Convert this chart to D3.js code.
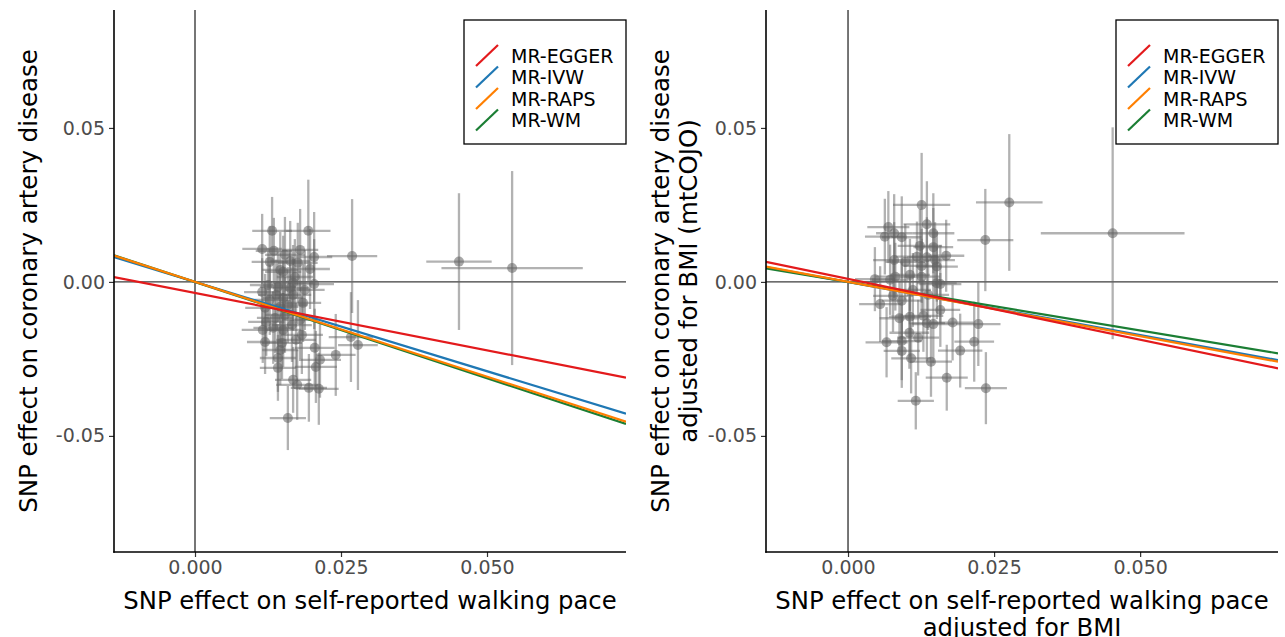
<!DOCTYPE html>
<html>
<head>
<meta charset="utf-8">
<script src="https://cdn.jsdelivr.net/npm/d3@7"></script>
<style>
  html, body { margin: 0; padding: 0; background: #fff; }
  svg { display: block; font-family: "DejaVu Sans", sans-serif; }
</style>
</head>
<body>
<svg id="chart" width="1285" height="637"></svg>
<script>
// ---------------- DATA ----------------
const methods = ["MR-EGGER", "MR-IVW", "MR-RAPS", "MR-WM"];
const methodColors = ["#E31A1C", "#1F78B4", "#FF7F00", "#1B7E34"];

const xTicks = [0.000, 0.025, 0.050];
const xTickLabels = ["0.000", "0.025", "0.050"];
const yTicks = [-0.05, 0.00, 0.05];
const yTickLabels = ["-0.05", "0.00", "0.05"];

// SNP estimates: [beta_exposure, beta_outcome, half-width x error bar, half-width y error bar]
const snpsWalking = [
  [0.0132, 0.0166, 0.0034, 0.0110], [0.0194, 0.0166, 0.0038, 0.0166],
  [0.0115, 0.0107, 0.0034, 0.0114], [0.0135, 0.0101, 0.0031, 0.0107],
  [0.0269, 0.0084, 0.0043, 0.0185], [0.0204, 0.0081, 0.0031, 0.0146],
  [0.0163, 0.0068, 0.0034, 0.0130], [0.0176, 0.0062, 0.0034, 0.0130],
  [0.0197, 0.0042, 0.0034, 0.0130], [0.0146, 0.0039, 0.0031, 0.0123],
  [0.0171, 0.0016, 0.0031, 0.0123], [0.0204, -0.0007, 0.0034, 0.0146],
  [0.0142, -0.0016, 0.0031, 0.0114], [0.0163, -0.0020, 0.0031, 0.0123],
  [0.0128, -0.0058, 0.0031, 0.0114], [0.0151, -0.0052, 0.0034, 0.0120],
  [0.0168, -0.0042, 0.0031, 0.0117], [0.0120, -0.0084, 0.0034, 0.0110],
  [0.0146, -0.0081, 0.0031, 0.0114], [0.0116, -0.0156, 0.0036, 0.0107],
  [0.0134, -0.0149, 0.0034, 0.0117], [0.0151, -0.0156, 0.0031, 0.0120],
  [0.0183, -0.0172, 0.0036, 0.0127], [0.0120, -0.0195, 0.0031, 0.0104],
  [0.0149, -0.0198, 0.0034, 0.0117], [0.0267, -0.0179, 0.0038, 0.0146],
  [0.0279, -0.0205, 0.0034, 0.0146], [0.0205, -0.0214, 0.0034, 0.0127],
  [0.0146, -0.0221, 0.0031, 0.0114], [0.0142, -0.0247, 0.0031, 0.0110],
  [0.0214, -0.0253, 0.0036, 0.0123], [0.0241, -0.0237, 0.0034, 0.0133],
  [0.0142, -0.0279, 0.0031, 0.0107], [0.0207, -0.0276, 0.0036, 0.0117],
  [0.0168, -0.0318, 0.0031, 0.0107], [0.0175, -0.0334, 0.0036, 0.0114],
  [0.0195, -0.0344, 0.0031, 0.0110], [0.0212, -0.0347, 0.0034, 0.0117],
  [0.0159, -0.0442, 0.0031, 0.0104], [0.0452, 0.0066, 0.0056, 0.0222],
  [0.0543, 0.0045, 0.0121, 0.0315],
  [0.0125, -0.0010, 0.0031, 0.0120], [0.0154, -0.0107, 0.0034, 0.0123],
  [0.0180, -0.0123, 0.0031, 0.0127], [0.0137, -0.0117, 0.0031, 0.0114],
  [0.0166, -0.0140, 0.0034, 0.0120], [0.0115, -0.0033, 0.0031, 0.0110],
  [0.0159, -0.0075, 0.0034, 0.0123], [0.0185, -0.0068, 0.0031, 0.0127],
  [0.0188, -0.0026, 0.0034, 0.0130], [0.0128, 0.0065, 0.0031, 0.0117],
  [0.0154, 0.0088, 0.0034, 0.0123], [0.0180, 0.0104, 0.0031, 0.0133],
  [0.0122, -0.0130, 0.0031, 0.0110], [0.0173, -0.0188, 0.0034, 0.0120],
  [0.0151, 0.0033, 0.0031, 0.0117], [0.0168, -0.0003, 0.0034, 0.0123],
  [0.0139, -0.0042, 0.0031, 0.0114]
];

const snpsWalkingAdjBMI = [
  [0.0126, 0.0250, 0.0049, 0.0169], [0.0135, 0.0187, 0.0040, 0.0140],
  [0.0069, 0.0178, 0.0036, 0.0117], [0.0063, 0.0147, 0.0034, 0.0123],
  [0.0079, 0.0158, 0.0031, 0.0127], [0.0092, 0.0145, 0.0034, 0.0133],
  [0.0146, 0.0158, 0.0036, 0.0130], [0.0123, 0.0117, 0.0038, 0.0120],
  [0.0146, 0.0113, 0.0034, 0.0127], [0.0118, 0.0082, 0.0036, 0.0114],
  [0.0135, 0.0080, 0.0034, 0.0130], [0.0168, 0.0085, 0.0031, 0.0117],
  [0.0079, 0.0071, 0.0036, 0.0123], [0.0149, 0.0071, 0.0034, 0.0123],
  [0.0152, 0.0050, 0.0036, 0.0114], [0.0126, 0.0052, 0.0031, 0.0120],
  [0.0106, 0.0023, 0.0034, 0.0117], [0.0046, 0.0009, 0.0034, 0.0104],
  [0.0072, 0.0007, 0.0031, 0.0114], [0.0081, 0.0017, 0.0034, 0.0110],
  [0.0126, 0.0017, 0.0031, 0.0123], [0.0152, -0.0004, 0.0034, 0.0117],
  [0.0158, -0.0007, 0.0036, 0.0127], [0.0235, 0.0136, 0.0048, 0.0166],
  [0.0276, 0.0258, 0.0057, 0.0222], [0.0055, -0.0072, 0.0036, 0.0123],
  [0.0092, -0.0061, 0.0034, 0.0127], [0.0088, -0.0118, 0.0034, 0.0120],
  [0.0106, -0.0113, 0.0036, 0.0130], [0.0129, -0.0110, 0.0034, 0.0117],
  [0.0135, -0.0134, 0.0031, 0.0123], [0.0146, -0.0137, 0.0036, 0.0127],
  [0.0158, -0.0091, 0.0034, 0.0120], [0.0179, -0.0132, 0.0036, 0.0123],
  [0.0223, -0.0137, 0.0038, 0.0136], [0.0066, -0.0196, 0.0036, 0.0114],
  [0.0092, -0.0192, 0.0034, 0.0127], [0.0092, -0.0224, 0.0031, 0.0120],
  [0.0105, -0.0165, 0.0034, 0.0117], [0.0120, -0.0181, 0.0036, 0.0123],
  [0.0108, -0.0248, 0.0034, 0.0114], [0.0142, -0.0259, 0.0036, 0.0114],
  [0.0192, -0.0223, 0.0038, 0.0120], [0.0216, -0.0194, 0.0034, 0.0130],
  [0.0169, -0.0311, 0.0036, 0.0107], [0.0236, -0.0345, 0.0036, 0.0117],
  [0.0116, -0.0386, 0.0031, 0.0093], [0.0453, 0.0158, 0.0123, 0.0344],
  [0.0077, -0.0045, 0.0034, 0.0117], [0.0111, -0.0026, 0.0031, 0.0120],
  [0.0137, -0.0042, 0.0036, 0.0114], [0.0098, 0.0065, 0.0034, 0.0123]
];

// MR estimates per panel: [intercept, slope] in method order
const fitsWalking       = [[-0.0036, -0.372], [0, -0.580], [0, -0.615], [0, -0.625]];
const fitsWalkingAdjBMI = [[ 0.0010, -0.395], [0, -0.345], [0, -0.352], [0, -0.315]];

// axis domains
const xDomainLeft  = [-0.01387, 0.0738];
const xDomainRight = [-0.01404, 0.0736];
const yDomain = [-0.0877, 0.0883];

const panels = [
  { snps: snpsWalking, fits: fitsWalking, xDomain: xDomainLeft,
    x0: 114, x1: 626,
    yTitle: ["SNP effect on coronary artery disease"],
    xTitle: ["SNP effect on self-reported walking pace"] },
  { snps: snpsWalkingAdjBMI, fits: fitsWalkingAdjBMI, xDomain: xDomainRight,
    x0: 766, x1: 1278,
    yTitle: ["SNP effect on coronary artery disease", "adjusted for BMI (mtCOJO)"],
    xTitle: ["SNP effect on self-reported walking pace", "adjusted for BMI"] }
];

// ---------------- DRAW ----------------
const svg = d3.select("#chart");
const yTop = 10, yBot = 552;
const drawOrder = [1, 3, 2, 0];

panels.forEach(p => {
  const x = d3.scaleLinear().domain(p.xDomain).range([p.x0, p.x1]);
  const y = d3.scaleLinear().domain(yDomain).range([yBot, yTop]);
  const g = svg.append("g");

  // reference lines at zero
  g.append("line").attr("x1", p.x0).attr("x2", p.x1)
    .attr("y1", y(0)).attr("y2", y(0))
    .attr("stroke", "#3c3c3c").attr("stroke-width", 1.4);
  g.append("line").attr("x1", x(0)).attr("x2", x(0))
    .attr("y1", yTop).attr("y2", yBot)
    .attr("stroke", "#3c3c3c").attr("stroke-width", 1.4);

  // error bars
  const eb = g.append("g").attr("stroke", "#666").attr("stroke-opacity", 0.5).attr("stroke-width", 2.3);
  eb.selectAll(".v").data(p.snps).join("line")
    .attr("x1", d => x(d[0])).attr("x2", d => x(d[0]))
    .attr("y1", d => y(d[1] - d[3])).attr("y2", d => y(d[1] + d[3]));
  eb.selectAll(".h").data(p.snps).join("line")
    .attr("y1", d => y(d[1])).attr("y2", d => y(d[1]))
    .attr("x1", d => x(d[0] - d[2])).attr("x2", d => x(d[0] + d[2]));

  // points
  g.append("g").selectAll("circle").data(p.snps).join("circle")
    .attr("cx", d => x(d[0])).attr("cy", d => y(d[1])).attr("r", 5)
    .attr("fill", "#606060").attr("fill-opacity", 0.55);

  // fitted lines
  const clip = "clip" + p.x0;
  svg.append("clipPath").attr("id", clip).append("rect")
    .attr("x", p.x0).attr("y", yTop).attr("width", p.x1 - p.x0).attr("height", yBot - yTop);
  const lg = g.append("g").attr("clip-path", `url(#${clip})`);
  drawOrder.forEach(i => {
    const [a, b] = p.fits[i];
    lg.append("line")
      .attr("x1", x(p.xDomain[0])).attr("y1", y(a + b * p.xDomain[0]))
      .attr("x2", x(p.xDomain[1])).attr("y2", y(a + b * p.xDomain[1]))
      .attr("stroke", methodColors[i]).attr("stroke-width", 2.2);
  });

  // axes
  const xAxis = d3.axisBottom(x).tickValues(xTicks).tickFormat((d, i) => xTickLabels[i]).tickSize(5).tickPadding(4);
  const yAxis = d3.axisLeft(y).tickValues(yTicks).tickFormat((d, i) => yTickLabels[i]).tickSize(5).tickPadding(4);
  const gx = g.append("g").attr("transform", `translate(0,${yBot})`).call(xAxis);
  const gy = g.append("g").attr("transform", `translate(${p.x0},0)`).call(yAxis);
  [gx, gy].forEach(a => {
    a.select(".domain").remove();
    a.selectAll(".tick line").attr("stroke", "#333").attr("stroke-width", 1.2);
    a.selectAll(".tick text").attr("fill", "#4D4D4D").attr("font-size", 19)
      .attr("font-family", "DejaVu Sans");
  });
  // axis lines
  g.append("line").attr("x1", p.x0).attr("x2", p.x0).attr("y1", yTop).attr("y2", yBot + 0.75)
    .attr("stroke", "#000").attr("stroke-width", 1.6);
  g.append("line").attr("x1", p.x0 - 0.75).attr("x2", p.x1).attr("y1", yBot).attr("y2", yBot)
    .attr("stroke", "#000").attr("stroke-width", 1.6);

  // axis titles
  const cx = (p.x0 + p.x1) / 2;
  p.xTitle.forEach((t, i) => {
    g.append("text").attr("x", cx).attr("y", 609 + i * 27)
      .attr("text-anchor", "middle").attr("font-size", 24.3).attr("fill", "#000").text(t);
  });
  const cy = (yTop + yBot) / 2;
  const nY = p.yTitle.length;
  p.yTitle.forEach((t, i) => {
    const tx = nY > 1 ? p.x0 - 97 + i * 28 : p.x0 - 77;
    g.append("text").attr("transform", `translate(${tx},${cy}) rotate(-90)`)
      .attr("text-anchor", "middle").attr("font-size", 24.5).attr("fill", "#000").text(t);
  });

  // legend
  const lx1 = p.x1, lx0 = p.x1 - 162, ly0 = 20, ly1 = 144;
  const leg = g.append("g");
  leg.append("rect").attr("x", lx0).attr("y", ly0).attr("width", lx1 - lx0).attr("height", ly1 - ly0)
    .attr("fill", "#fff").attr("stroke", "#000").attr("stroke-width", 1.3);
  methods.forEach((m, i) => {
    const rc = 56 + i * 21.5;
    leg.append("line").attr("x1", lx0 + 12).attr("y1", rc + 10)
      .attr("x2", lx0 + 34).attr("y2", rc - 11)
      .attr("stroke", methodColors[i]).attr("stroke-width", 2.2);
    leg.append("text").attr("x", lx0 + 47).attr("y", rc).attr("dy", "0.35em")
      .attr("font-size", 19).attr("fill", "#000").text(m);
  });
});
</script>
</body>
</html>
